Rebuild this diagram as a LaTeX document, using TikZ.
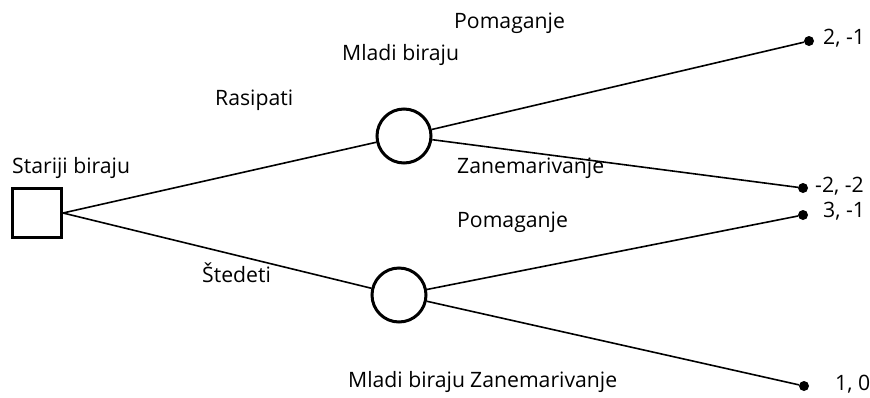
\documentclass[tikz,border=0pt]{standalone}
\usepackage{fontspec}
\setmainfont{Open Sans}
\begin{document}
\begin{tikzpicture}[x=1pt,y=-1pt,
  lbl/.style={anchor=base west,inner sep=0pt,font=\fontsize{21.2}{24}\selectfont},
  chance/.style={circle,draw,line width=3pt,minimum size=54pt,inner sep=0pt},
  decision/.style={rectangle,draw,line width=3pt,minimum size=49pt,inner sep=0pt},
  term/.style={circle,fill,minimum size=10pt,inner sep=0pt},
  edge/.style={line width=1.6pt}]
\useasboundingbox (0,0) rectangle (870,397);
\node[decision] (s) at (37,213) {};
\node[chance] (u) at (404,136) {};
\node[chance] (d) at (399,295) {};
\node[term] (t1) at (809,41) {};
\node[term] (t2) at (803,188) {};
\node[term] (t3) at (803,215) {};
\node[term] (t4) at (804,386) {};
\draw[edge] (s.east) -- (u);
\draw[edge] (s.east) -- (d);
\draw[edge] (u) -- (t1);
\draw[edge] (u) -- (t2);
\draw[edge] (d) -- (t3);
\draw[edge] (d) -- (t4);
\node[lbl] (l1) at (454,28) {Pomaganje};
\node[lbl] (l2) at (342,60) {Mladi biraju};
\node[lbl] (l3) at (215,105) {Rasipati};
\node[lbl] (l4) at (12,173) {Stariji biraju};
\node[lbl] (l5) at (457,173) {Zanemarivanje};
\node[lbl] (l6) at (457,227) {Pomaganje};
\node[lbl] (l7) at (202,282) {Štedeti};
\node[lbl] (l8) at (348,387) {Mladi biraju};
\node[lbl] (l9) at (470,387) {Zanemarivanje};
\node[lbl] (p1) at (823,44) {2, -1};
\node[lbl] (p2) at (815,192) {-2, -2};
\node[lbl] (p3) at (823,217) {3, -1};
\node[lbl] (p4) at (835,390) {1, 0};
\end{tikzpicture}
\end{document}
